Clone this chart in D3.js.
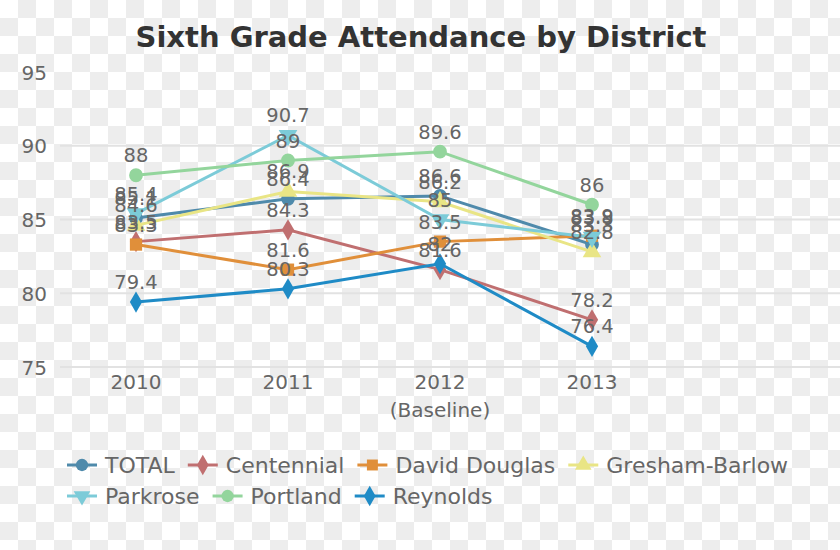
<!DOCTYPE html>
<html><head><meta charset="utf-8">
<script src="https://cdn.jsdelivr.net/npm/d3@7"></script>
<style>body{margin:0;background:#fff}svg{display:block}</style>
</head><body><svg id="c" width="840" height="550"></svg>
<script>
const years = ["2010","2011","2012","2013"];
const yTicks = [75,80,85,90,95];
const seriesNames = ["TOTAL","Centennial","David Douglas","Gresham-Barlow","Parkrose","Portland","Reynolds"];
const totalVals      = [85.1, 86.4, 86.6, 83.3];
const centennialVals = [83.5, 84.3, 81.6, 78.2];
const davidDouglasVals = [83.3, 81.6, 83.5, 83.9];
const greshamVals    = [84.6, 86.9, 86.2, 82.8];
const parkroseVals   = [85.4, 90.7, 85.0, 83.8];
const portlandVals   = [88.0, 89.0, 89.6, 86.0];
const reynoldsVals   = [79.4, 80.3, 82.0, 76.4];
const colors = ["#4f8aab","#c06f70","#e08f3a","#e9e585","#7ccbd8","#93d59c","#1f8bc6"];
const symbols = [d3.symbolCircle, d3.symbolDiamond, d3.symbolSquare, d3.symbolTriangle, "down", d3.symbolCircle, d3.symbolDiamond];
const allVals = [totalVals, centennialVals, davidDouglasVals, greshamVals, parkroseVals, portlandVals, reynoldsVals];

const svg = d3.select("#c");
const W = 840, H = 550;
// checkerboard background
const defs = svg.append("defs");
const pat = defs.append("pattern").attr("id","chk").attr("width",36).attr("height",36).attr("patternUnits","userSpaceOnUse");
pat.append("rect").attr("width",36).attr("height",36).attr("fill","#ffffff");
pat.append("rect").attr("x",18).attr("y",0).attr("width",18).attr("height",18).attr("fill","#ededed");
pat.append("rect").attr("x",0).attr("y",18).attr("width",18).attr("height",18).attr("fill","#ededed");
svg.append("rect").attr("width",W).attr("height",H).attr("fill","url(#chk)");

const font = "DejaVu Sans, sans-serif";
const x = d3.scaleBand().domain([...years, ""]).range([60, 820]);
const y = d3.scaleLinear().domain([75, 95]).range([367, 72]);
const cx = d => x(d) + x.bandwidth()/2;

svg.append("text").attr("x", 421).attr("y", 47).attr("text-anchor","middle")
  .attr("font-family", font).attr("font-weight","bold").attr("font-size", 29).attr("fill","#333")
  .text("Sixth Grade Attendance by District");

// grid
svg.append("g").selectAll("line").data(yTicks.slice(0,4)).join("line")
  .attr("x1", 60).attr("x2", 840).attr("y1", d=>y(d)).attr("y2", d=>y(d))
  .attr("stroke", "#e2e2e2").attr("stroke-width", 2);

const yAxis = svg.append("g").attr("transform","translate(47,0)")
  .call(d3.axisLeft(y).tickValues(yTicks).tickSize(0).tickPadding(0));
yAxis.select(".domain").remove();
yAxis.selectAll("text").attr("font-family", font).attr("font-size", 20).attr("fill","#666").attr("dy","0.35em");

const xAxis = svg.append("g").attr("transform","translate(0,367)")
  .call(d3.axisBottom(x).tickValues(years).tickSize(0).tickPadding(8));
xAxis.select(".domain").remove();
xAxis.selectAll("text").attr("font-family", font).attr("font-size", 20).attr("fill","#666");
svg.append("text").attr("x", cx("2012")).attr("y", 417).attr("text-anchor","middle")
  .attr("font-family", font).attr("font-size", 20).attr("fill","#666").text("(Baseline)");

function symPath(s, size) {
  if (s === "down") return d3.symbol(d3.symbolTriangle, size)();
  return d3.symbol(s, size)();
}
const line = d3.line().x((d,i)=>cx(years[i])).y(d=>y(d));
const plot = svg.append("g");
allVals.forEach((vals, k) => {
  const g = plot.append("g");
  g.append("path").attr("d", line(vals)).attr("fill","none").attr("stroke", colors[k]).attr("stroke-width", 3);
  g.selectAll("path.m").data(vals).join("path").attr("class","m")
    .attr("d", symPath(symbols[k], symbols[k]===d3.symbolDiamond?130:150))
    .attr("transform", (d,i)=>`translate(${cx(years[i])},${y(d)})` + (symbols[k]==="down"?" rotate(180)":""))
    .attr("fill", colors[k]);
});
allVals.forEach((vals, k) => {
  plot.append("g").selectAll("text").data(vals).join("text")
    .attr("x", (d,i)=>cx(years[i])).attr("y", d=>y(d)-13)
    .attr("text-anchor","middle").attr("font-family", font).attr("font-size", 19.5).attr("fill","#666")
    .text(d=>d3.format("")(d));
});

// legend
const lg = svg.append("g");
let lx = 67, ly = 465;
seriesNames.forEach((n, k) => {
  const it = lg.append("g");
  it.append("line").attr("x1",0).attr("x2",30).attr("y1",0).attr("y2",0).attr("stroke",colors[k]).attr("stroke-width",3);
  it.append("path").attr("d", symPath(symbols[k], 120)).attr("fill", colors[k])
    .attr("transform", "translate(15,0)" + (symbols[k]==="down"?" rotate(180)":""));
  const t = it.append("text").attr("x", 38).attr("y", 0).attr("dy","0.35em")
    .attr("font-family", font).attr("font-size", 22).attr("fill","#666").text(n);
  const w = 38 + t.node().getComputedTextLength() + 13;
  if (lx + w > 820) { lx = 67; ly += 31; }
  it.attr("transform", `translate(${lx},${ly})`);
  lx += w;
});
</script></body></html>
